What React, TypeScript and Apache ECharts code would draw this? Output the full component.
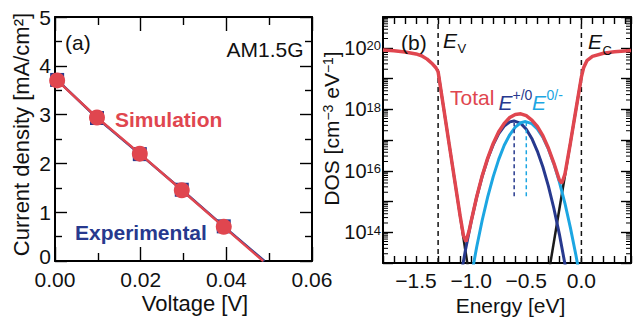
import React, { useEffect, useRef } from "react";
import * as echarts from "echarts";

const FONT = "'Liberation Sans', Arial, Helvetica, sans-serif";
const RED = "#E0464F";
const NAVY = "#27398E";
const CYAN = "#1CA6E2";
const BLACK = "#1a1a1a";

// ---- Panel (a): J-V ----
const voltage = [0.0005, 0.0098, 0.0198, 0.0296, 0.0394];
const jSimulation = [3.7, 2.94, 2.2, 1.45, 0.7];
const jExperimental = [3.71, 2.93, 2.19, 1.46, 0.71];
const vOcSimulation = 0.0486;
const vOcExperimental = 0.0489;

// ---- Panel (b): DOS (log10 of cm^-3 eV^-1) vs energy (eV) ----
const totalEnergy = [
  -1.8, -1.7, -1.6, -1.5, -1.45, -1.4, -1.35, -1.32, -1.3, -1.25, -1.2, -1.15, -1.1,
  -1.07, -1.047, -1.02, -1.0, -0.95, -0.9, -0.85, -0.8, -0.75, -0.7, -0.65, -0.6, -0.55,
  -0.5, -0.45, -0.4, -0.35, -0.3, -0.25, -0.2, -0.177, -0.15, -0.1, -0.05, 0.0, 0.02,
  0.05, 0.1, 0.2, 0.3, 0.45,
];
const totalLogDos = [
  19.93, 19.9, 19.86, 19.8, 19.74, 19.63, 19.47, 19.35, 19.22, 18.05, 16.87, 15.7, 14.53,
  13.89, 13.7, 14.03, 14.36, 15.15, 15.84, 16.41, 16.89, 17.27, 17.54, 17.73, 17.83, 17.85,
  17.79, 17.65, 17.44, 17.14, 16.74, 16.25, 15.7, 15.6, 15.88, 16.9, 17.98, 19.05, 19.35,
  19.58, 19.72, 19.82, 19.87, 19.91,
];
const donorEnergy = [
  -1.09, -1.05, -1.0, -0.95, -0.9, -0.85, -0.8, -0.75, -0.7, -0.65, -0.612, -0.55, -0.5,
  -0.45, -0.4, -0.35, -0.3, -0.25, -0.2, -0.15, -0.13,
];
const donorLogDos = [
  12.66, 13.46, 14.35, 15.14, 15.82, 16.39, 16.85, 17.21, 17.45, 17.59, 17.62, 17.54, 17.35,
  17.05, 16.64, 16.13, 15.51, 14.78, 13.94, 12.98, 12.58,
];
const acceptorEnergy = [
  -1.0, -0.95, -0.9, -0.85, -0.8, -0.75, -0.7, -0.65, -0.6, -0.55, -0.507, -0.45, -0.4,
  -0.35, -0.3, -0.25, -0.2, -0.15, -0.1, -0.05, -0.02,
];
const acceptorLogDos = [
  12.54, 13.52, 14.39, 15.15, 15.81, 16.37, 16.83, 17.17, 17.42, 17.56, 17.6, 17.53, 17.36,
  17.09, 16.71, 16.23, 15.64, 14.95, 14.15, 13.26, 12.67,
];
const vbTailEnergy = [-1.3, -1.0];
const vbTailLogDos = [19.22, 12.17];
const cbTailEnergy = [-0.3, 0.0];
const cbTailLogDos = [12.6, 19.05];
const bandEdgeEnergy = [-1.3, 0.0];
const donorLevel = -0.61;
const acceptorLevel = -0.5;
const levelLogRange = [15.17, 17.55];
const dosLabelExponents = [14, 16, 18, 20];

const E_MIN = -1.8;
const E_MAX = 0.45;
const LOG_MIN = 13;
const LOG_MAX = 21;

const zip = (xs: number[], ys: number[]) => xs.map((x, i) => [x, ys[i]]);

const minorLogTicks: number[] = [];
for (let n = LOG_MIN; n < LOG_MAX; n++) {
  for (let k = 2; k <= 9; k++) minorLogTicks.push(n + Math.log10(k));
}

const axisLine = { onZero: false, lineStyle: { color: "#000", width: 2 } };
const tickStyle = { color: "#000", width: 1.4 };
const labelBase = { fontFamily: FONT, fontSize: 21, color: "#111", lineHeight: 17 };

function txt(text: string, x: number, y: number, extra: any = {}, align = "left") {
  return {
    type: "text",
    x,
    y,
    z: 100,
    style: {
      text,
      fontFamily: FONT,
      fontSize: 21,
      fill: "#111",
      align,
      verticalAlign: "middle",
      ...extra,
    },
  };
}

export default function App() {
  const ref = useRef<HTMLDivElement>(null);
  useEffect(() => {
    if (!ref.current) return;
    const chart = echarts.init(ref.current, undefined, { renderer: "svg" });

    const eLabel = (v: number) => {
      const r = Math.round(v * 10);
      if (Math.abs(v * 10 - r) > 1e-6 || r % 5 !== 0) return "";
      const s = Math.abs(v).toFixed(1);
      return v < -1e-9 ? "\u2212" + s : s;
    };

    const option: any = {
      animation: false,
      backgroundColor: "#fff",
      grid: [
        { left: 55, top: 17, width: 257, height: 244 },
        { left: 383, top: 17, width: 250, height: 246 },
      ],
      xAxis: [
        {
          gridIndex: 0, type: "value", position: "bottom", min: 0, max: 0.06, interval: 0.02,
          axisLine, splitLine: { show: false },
          axisTick: { inside: true, length: 14, lineStyle: tickStyle },
          minorTick: { show: true, splitNumber: 2, length: 8, lineStyle: tickStyle },
          axisLabel: { ...labelBase, margin: 10, formatter: (v: number) => v.toFixed(2) },
        },
        {
          gridIndex: 0, type: "value", position: "top", min: 0, max: 0.06, interval: 0.02,
          axisLine, splitLine: { show: false },
          axisTick: { inside: true, length: 14, lineStyle: tickStyle },
          minorTick: { show: true, splitNumber: 2, length: 8, lineStyle: tickStyle },
          axisLabel: { show: false },
        },
        {
          gridIndex: 1, type: "value", position: "bottom", min: E_MIN, max: E_MAX, interval: 0.1,
          axisLine, splitLine: { show: false },
          axisTick: { inside: true, length: 7, lineStyle: tickStyle },
          axisLabel: { ...labelBase, margin: 9, formatter: eLabel },
        },
        {
          gridIndex: 1, type: "value", position: "top", min: E_MIN, max: E_MAX, interval: 0.1,
          axisLine, splitLine: { show: false },
          axisTick: { inside: true, length: 7, lineStyle: tickStyle },
          axisLabel: { show: false },
        },
      ],
      yAxis: [
        {
          gridIndex: 0, type: "value", position: "left", min: 0, max: 5, interval: 1,
          axisLine, splitLine: { show: false },
          axisTick: { inside: true, length: 12, lineStyle: tickStyle },
          minorTick: { show: true, splitNumber: 2, length: 7, lineStyle: tickStyle },
          axisLabel: {
            ...labelBase,
            margin: 4,
            formatter: (v: number) => (v === 0 ? "{z|0}" : String(v)),
            rich: {
              z: { fontFamily: FONT, fontSize: 21, color: "#111", lineHeight: 15, padding: [0, 0, 10, 0] },
            },
          },
        },
        {
          gridIndex: 0, type: "value", position: "right", min: 0, max: 5, interval: 1,
          axisLine, splitLine: { show: false },
          axisTick: { inside: true, length: 12, lineStyle: tickStyle },
          minorTick: { show: true, splitNumber: 2, length: 7, lineStyle: tickStyle },
          axisLabel: { show: false },
        },
        {
          gridIndex: 1, type: "value", position: "left", min: LOG_MIN, max: LOG_MAX, interval: 1,
          axisLine, splitLine: { show: false },
          axisTick: { inside: true, length: 10, lineStyle: tickStyle },
          axisLabel: {
            ...labelBase,
            margin: 2,
            formatter: (v: number) =>
              dosLabelExponents.indexOf(Math.round(v)) >= 0 ? `{b|10}{s|${Math.round(v)}}` : "",
            rich: {
              b: { fontFamily: FONT, fontSize: 20, color: "#111" },
              s: { fontFamily: FONT, fontSize: 13, color: "#111", verticalAlign: "top", lineHeight: 13 },
            },
          },
        },
        {
          gridIndex: 1, type: "value", position: "right", min: LOG_MIN, max: LOG_MAX, interval: 1,
          axisLine, splitLine: { show: false },
          axisTick: { inside: true, length: 10, lineStyle: tickStyle },
          axisLabel: { show: false },
        },
      ],
      series: [
        {
          type: "line", xAxisIndex: 0, yAxisIndex: 0, z: 2,
          data: [
            ...zip(voltage, jExperimental),
            { value: [vOcExperimental, 0], symbol: "none" },
          ],
          symbol: "rect", symbolSize: 14,
          itemStyle: { color: NAVY },
          lineStyle: { color: NAVY, width: 2.5 },
        },
        {
          type: "line", xAxisIndex: 0, yAxisIndex: 0, z: 3,
          data: [
            ...zip(voltage, jSimulation),
            { value: [vOcSimulation, 0], symbol: "none" },
          ],
          symbol: "circle", symbolSize: 16,
          itemStyle: { color: RED },
          lineStyle: { color: RED, width: 2.5 },
        },
        {
          type: "custom", xAxisIndex: 2, yAxisIndex: 2, silent: true, clip: false, z: 1,
          data: minorLogTicks.map((v) => [E_MIN, v]),
          renderItem: (_p: any, api: any) => {
            const v = api.value(1);
            const l = api.coord([E_MIN, v]);
            const r = api.coord([E_MAX, v]);
            return {
              type: "group",
              children: [
                { type: "line", shape: { x1: l[0], y1: l[1], x2: l[0] + 5, y2: l[1] }, style: { stroke: "#000", lineWidth: 1 } },
                { type: "line", shape: { x1: r[0] - 5, y1: r[1], x2: r[0], y2: r[1] }, style: { stroke: "#000", lineWidth: 1 } },
              ],
            };
          },
        },
        ...bandEdgeEnergy.map((e) => ({
          type: "line", xAxisIndex: 2, yAxisIndex: 2, symbol: "none", z: 2,
          data: [[e, LOG_MIN], [e, LOG_MAX]],
          lineStyle: { color: "#111", width: 1.5, type: [5, 4] },
        })),
        {
          type: "line", xAxisIndex: 2, yAxisIndex: 2, symbol: "none", z: 3,
          data: zip(vbTailEnergy, vbTailLogDos),
          lineStyle: { color: BLACK, width: 2.5 },
        },
        {
          type: "line", xAxisIndex: 2, yAxisIndex: 2, symbol: "none", z: 3,
          data: zip(cbTailEnergy, cbTailLogDos),
          lineStyle: { color: BLACK, width: 2.5 },
        },
        {
          type: "line", xAxisIndex: 2, yAxisIndex: 2, symbol: "none", z: 4,
          data: zip(donorEnergy, donorLogDos),
          lineStyle: { color: NAVY, width: 3 },
        },
        {
          type: "line", xAxisIndex: 2, yAxisIndex: 2, symbol: "none", z: 5,
          data: zip(acceptorEnergy, acceptorLogDos),
          lineStyle: { color: CYAN, width: 3 },
        },
        {
          type: "line", xAxisIndex: 2, yAxisIndex: 2, symbol: "none", z: 6,
          data: [[donorLevel, levelLogRange[0]], [donorLevel, levelLogRange[1]]],
          lineStyle: { color: NAVY, width: 1.5, type: [4, 3] },
        },
        {
          type: "line", xAxisIndex: 2, yAxisIndex: 2, symbol: "none", z: 6,
          data: [[acceptorLevel, levelLogRange[0]], [acceptorLevel, levelLogRange[1]]],
          lineStyle: { color: CYAN, width: 1.5, type: [4, 3] },
        },
        {
          type: "line", xAxisIndex: 2, yAxisIndex: 2, symbol: "none", z: 7,
          data: zip(totalEnergy, totalLogDos),
          lineStyle: { color: RED, width: 3.5 },
        },
      ],
      graphic: [
        {
          type: "text", x: 21.7, y: 134.5, rotation: Math.PI / 2, z: 100,
          style: { text: "Current density [mA/cm\u00b2]", fontFamily: FONT, fontSize: 22, fill: "#111", align: "center", verticalAlign: "middle" },
        },
        txt("Voltage [V]", 195, 303, { fontSize: 22 }, "center"),
        txt("Energy [eV]", 510.5, 305, { fontSize: 21 }, "center"),
        {
          type: "text", x: 331, y: 128.5, rotation: Math.PI / 2, z: 100,
          style: {
            text: "{a|DOS [cm}{s|\u22123}{a| eV}{s|\u22121}{a|]}",
            fontFamily: FONT, fontSize: 21, fill: "#111", align: "center", verticalAlign: "middle",
            rich: {
              a: { fontFamily: FONT, fontSize: 21, fill: "#111" },
              s: { fontFamily: FONT, fontSize: 14, fill: "#111", verticalAlign: "top", lineHeight: 14 },
            },
          },
        },
        txt("(a)", 65, 42.5),
        txt("AM1.5G", 303.5, 49, {}, "right"),
        txt("Simulation", 115, 119.5, { fontWeight: "bold", fill: RED }),
        txt("Experimental", 75, 232.5, { fontWeight: "bold", fill: NAVY }),
        txt("(b)", 401, 42.5),
        txt("E", 443, 40, { fontStyle: "italic" }),
        txt("V", 457.5, 48, { fontSize: 13 }),
        txt("E", 588, 41, { fontStyle: "italic" }),
        txt("C", 602.5, 50, { fontSize: 13 }),
        txt("Total", 450, 97.5, { fill: RED }),
        txt("E", 498.5, 102.5, { fontStyle: "italic", fill: NAVY }),
        txt("+/0", 512.5, 95, { fontSize: 14, fill: NAVY }),
        txt("E", 532, 102.5, { fontStyle: "italic", fill: CYAN }),
        txt("0/-", 546.5, 95, { fontSize: 14, fill: CYAN }),
      ],
    };

    chart.setOption(option);
    return () => chart.dispose();
  }, []);

  return (
    <div
      ref={ref}
      style={{ position: "fixed", left: 0, top: 0, width: 634, height: 322, background: "#fff" }}
    />
  );
}
